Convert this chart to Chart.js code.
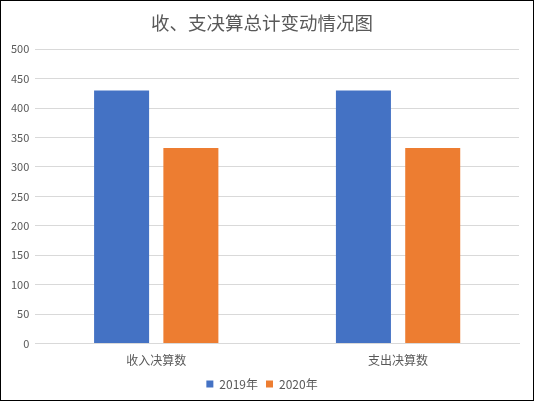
<!DOCTYPE html>
<html><head><meta charset="utf-8">
<script src="https://cdn.jsdelivr.net/npm/chart.js@4"></script>
<style>
html,body{margin:0;padding:0;background:#fff;}
#wrap{position:relative;width:534px;height:401px;box-sizing:border-box;border:1px solid #000;}
canvas{display:block;}
</style></head><body>
<div id="wrap"><canvas id="c" width="532" height="399"></canvas></div>
<script>
const titleText = '收、支决算总计变动情况图';
const categories = ['收入决算数', '支出决算数'];
const seriesNames = ['2019年', '2020年'];
const values2019 = [430, 430];
const values2020 = [332, 332];
const colors = ['#4472C4', '#ED7D31'];
const font = '"Noto Sans CJK SC", "Noto Sans", sans-serif';

new Chart(document.getElementById('c'), {
  type: 'bar',
  data: {
    labels: categories,
    datasets: [
      {label: seriesNames[0], data: values2019, backgroundColor: colors[0], barPercentage: 0.794, categoryPercentage: 0.573},
      {label: seriesNames[1], data: values2020, backgroundColor: colors[1], barPercentage: 0.794, categoryPercentage: 0.573}
    ]
  },
  options: {
    responsive: false,
    animation: false,
    layout: {padding: {left: 4, right: 14, top: 0, bottom: 0}},
    plugins: {
      title: {display: true, text: titleText, color: '#595959', font: {family: font, size: 18.5, weight: 'normal'}, padding: {top: 11, bottom: 15}},
      legend: {position: 'bottom', labels: {color: '#595959', boxWidth: 7, boxHeight: 7, padding: 8, font: {family: font, size: 12}}},
      tooltip: {enabled: false}
    },
    scales: {
      x: {
        grid: {display: false},
        border: {color: '#D9D9D9'},
        ticks: {color: '#595959', font: {family: font, size: 12}, padding: 2}
      },
      y: {
        min: 0, max: 500,
        ticks: {stepSize: 50, color: '#595959', font: {family: font, size: 11}, padding: 6},
        grid: {color: '#D9D9D9', drawTicks: false},
        border: {display: false}
      }
    }
  }
});
</script></body></html>
